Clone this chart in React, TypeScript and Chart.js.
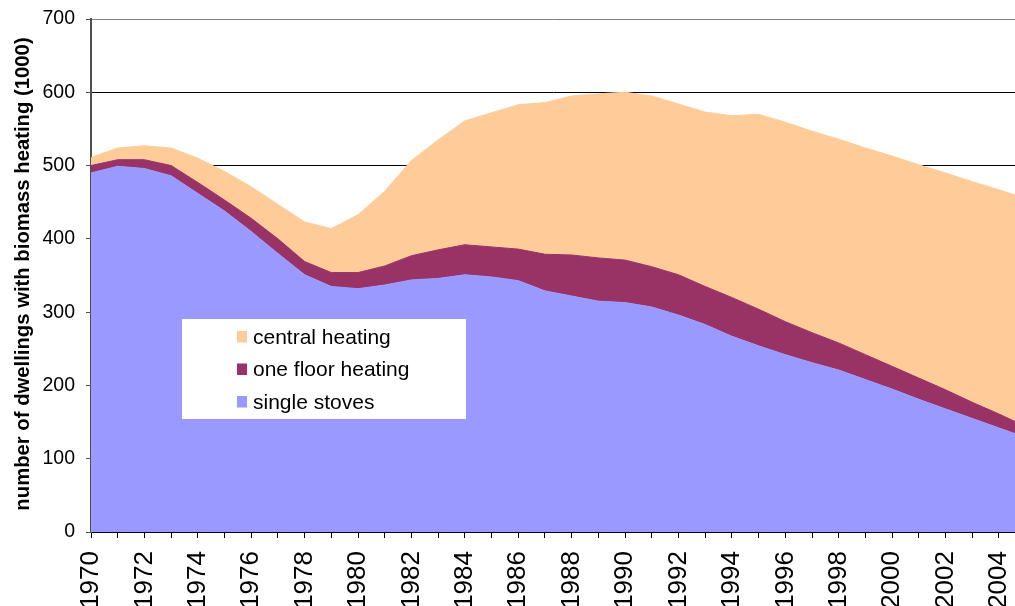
import React, { useEffect, useRef } from 'react';
import { Chart, registerables } from 'chart.js';

Chart.register(...registerables);

// ---- data (thousand dwellings) ----
const years = [
  1970, 1971, 1972, 1973, 1974, 1975, 1976, 1977, 1978, 1979,
  1980, 1981, 1982, 1983, 1984, 1985, 1986, 1987, 1988, 1989,
  1990, 1991, 1992, 1993, 1994, 1995, 1996, 1997, 1998, 1999,
  2000, 2001, 2002, 2003, 2004, 2005,
];

const singleStoves = [
  490, 499, 496, 486, 462, 438, 410, 380, 351, 335,
  332, 337, 344, 346, 351, 348, 343, 329, 322, 315,
  313, 307, 296, 283, 267, 254, 242, 231, 221, 208,
  195, 181, 168, 155, 142, 129,
];

const oneFloorHeating = [
  10, 9, 12, 14, 15, 15, 18, 20, 18, 19,
  22, 26, 33, 39, 41, 41, 43, 50, 56, 59,
  58, 55, 55, 52, 53, 50, 45, 41, 37, 34,
  31, 29, 26, 22, 19, 15,
];

const centralHeating = [
  11, 16, 19, 24, 33, 39, 43, 47, 54, 60,
  79, 102, 130, 150, 169, 183, 197, 207, 217, 224,
  229, 233, 233, 238, 248, 266, 272, 275, 278, 282,
  287, 291, 296, 301, 306, 311,
];

const yTicks = [0, 100, 200, 300, 400, 500, 600, 700];
const xTickYears = [
  1970, 1971, 1972, 1973, 1974, 1975, 1976, 1977, 1978, 1979,
  1980, 1981, 1982, 1983, 1984, 1985, 1986, 1987, 1988, 1989,
  1990, 1991, 1992, 1993, 1994, 1995, 1996, 1997, 1998, 1999,
  2000, 2001, 2002, 2003, 2004,
];

const yTitle = 'number of dwellings with biomass heating (1000)';
const seriesLabels = ['single stoves', 'one floor heating', 'central heating'];

// ---- styles ----
const FONT = '"Liberation Sans", Arial, Helvetica, sans-serif';
const COLOR_STOVES = '#9999FF';
const COLOR_ONEFLOOR = '#993366';
const COLOR_CENTRAL = '#FFCC99';

const W = 1015;
const H = 640;
const PLOT_LEFT = 91;
const PLOT_TOP = 19;
const PLOT_BOTTOM = 532;

const overlayPlugin = {
  id: 'overlay',
  afterDraw(chart: any) {
    const ctx = chart.ctx as CanvasRenderingContext2D;
    ctx.save();
    // legend box
    ctx.fillStyle = '#ffffff';
    ctx.fillRect(182, 319, 284, 100);
    const items = [
      { label: seriesLabels[2], color: COLOR_CENTRAL },
      { label: seriesLabels[1], color: COLOR_ONEFLOOR },
      { label: seriesLabels[0], color: COLOR_STOVES },
    ];
    items.forEach((it, i) => {
      const base = 343.5 + i * 32.5;
      ctx.fillStyle = it.color;
      ctx.fillRect(237, base - 12.5, 10, 11.5);
      ctx.fillStyle = '#000000';
      ctx.font = `21px ${FONT}`;
      ctx.textAlign = 'left';
      ctx.textBaseline = 'alphabetic';
      ctx.fillText(it.label, 253, base);
    });
    // y axis title
    ctx.translate(28.5, 274);
    ctx.rotate(-Math.PI / 2);
    ctx.font = `bold 20.3px ${FONT}`;
    ctx.fillStyle = '#000000';
    ctx.textAlign = 'center';
    ctx.textBaseline = 'alphabetic';
    ctx.fillText(yTitle, 0, 0);
    ctx.restore();
  },
};

export default function App() {
  const ref = useRef<HTMLCanvasElement | null>(null);

  useEffect(() => {
    if (!ref.current) return;
    const mk = (vals: number[]) => years.map((x, i) => ({ x, y: vals[i] }));
    const chart = new Chart(ref.current, {
      type: 'line',
      data: {
        datasets: [
          {
            label: seriesLabels[0],
            data: mk(singleStoves),
            fill: 'origin',
            backgroundColor: COLOR_STOVES,
            borderColor: COLOR_STOVES,
            borderWidth: 1,
            pointRadius: 0,
            tension: 0,
          },
          {
            label: seriesLabels[1],
            data: mk(oneFloorHeating),
            fill: '-1',
            backgroundColor: COLOR_ONEFLOOR,
            borderColor: COLOR_ONEFLOOR,
            borderWidth: 1,
            pointRadius: 0,
            tension: 0,
          },
          {
            label: seriesLabels[2],
            data: mk(centralHeating),
            fill: '-1',
            backgroundColor: COLOR_CENTRAL,
            borderColor: COLOR_CENTRAL,
            borderWidth: 1,
            pointRadius: 0,
            tension: 0,
          },
        ],
      },
      options: {
        animation: false,
        responsive: false,
        events: [],
        layout: { padding: { top: PLOT_TOP, left: 0, right: 0, bottom: 0 } },
        plugins: {
          legend: { display: false },
          tooltip: { enabled: false },
          title: { display: false },
        },
        scales: {
          x: {
            type: 'linear',
            min: 1970,
            max: 2004.6,
            afterBuildTicks: (scale: any) => {
              scale.ticks = xTickYears.map((v) => ({ value: v }));
            },
            afterFit: (scale: any) => {
              scale.height = H - PLOT_BOTTOM;
              scale.paddingLeft = 0;
              scale.paddingRight = 0;
            },
            grid: {
              display: true,
              drawOnChartArea: false,
              drawTicks: true,
              tickLength: 6,
              tickColor: '#000000',
              color: '#000000',
              lineWidth: 1,
            },
            border: { display: true, color: '#000000', width: 2 },
            ticks: {
              autoSkip: false,
              minRotation: 90,
              maxRotation: 90,
              padding: 13,
              color: '#000000',
              font: { family: FONT, size: 26 },
              callback: (v: any) => (Number(v) % 2 === 0 ? String(v) : ''),
            },
          },
          y: {
            type: 'linear',
            stacked: true,
            min: 0,
            max: 700,
            afterBuildTicks: (scale: any) => {
              scale.ticks = yTicks.map((v) => ({ value: v }));
            },
            afterFit: (scale: any) => {
              scale.width = PLOT_LEFT;
              scale.paddingTop = 0;
              scale.paddingBottom = 0;
            },
            grid: {
              display: true,
              drawOnChartArea: true,
              drawTicks: true,
              tickLength: 5,
              tickColor: '#555555',
              color: (c: any) => (c.tick && c.tick.value === 700 ? '#808080' : '#000000'),
              lineWidth: 1,
            },
            border: { display: true, color: '#505050', width: 2 },
            ticks: {
              padding: 11,
              color: '#000000',
              font: { family: FONT, size: 19.5 },
            },
          },
        },
      },
      plugins: [overlayPlugin],
    });
    return () => chart.destroy();
  }, []);

  return (
    <div style={{ position: 'fixed', left: 0, top: 0, width: W, height: H, background: '#ffffff' }}>
      <canvas ref={ref} width={W} height={H} style={{ display: 'block', width: W, height: H }} />
    </div>
  );
}
